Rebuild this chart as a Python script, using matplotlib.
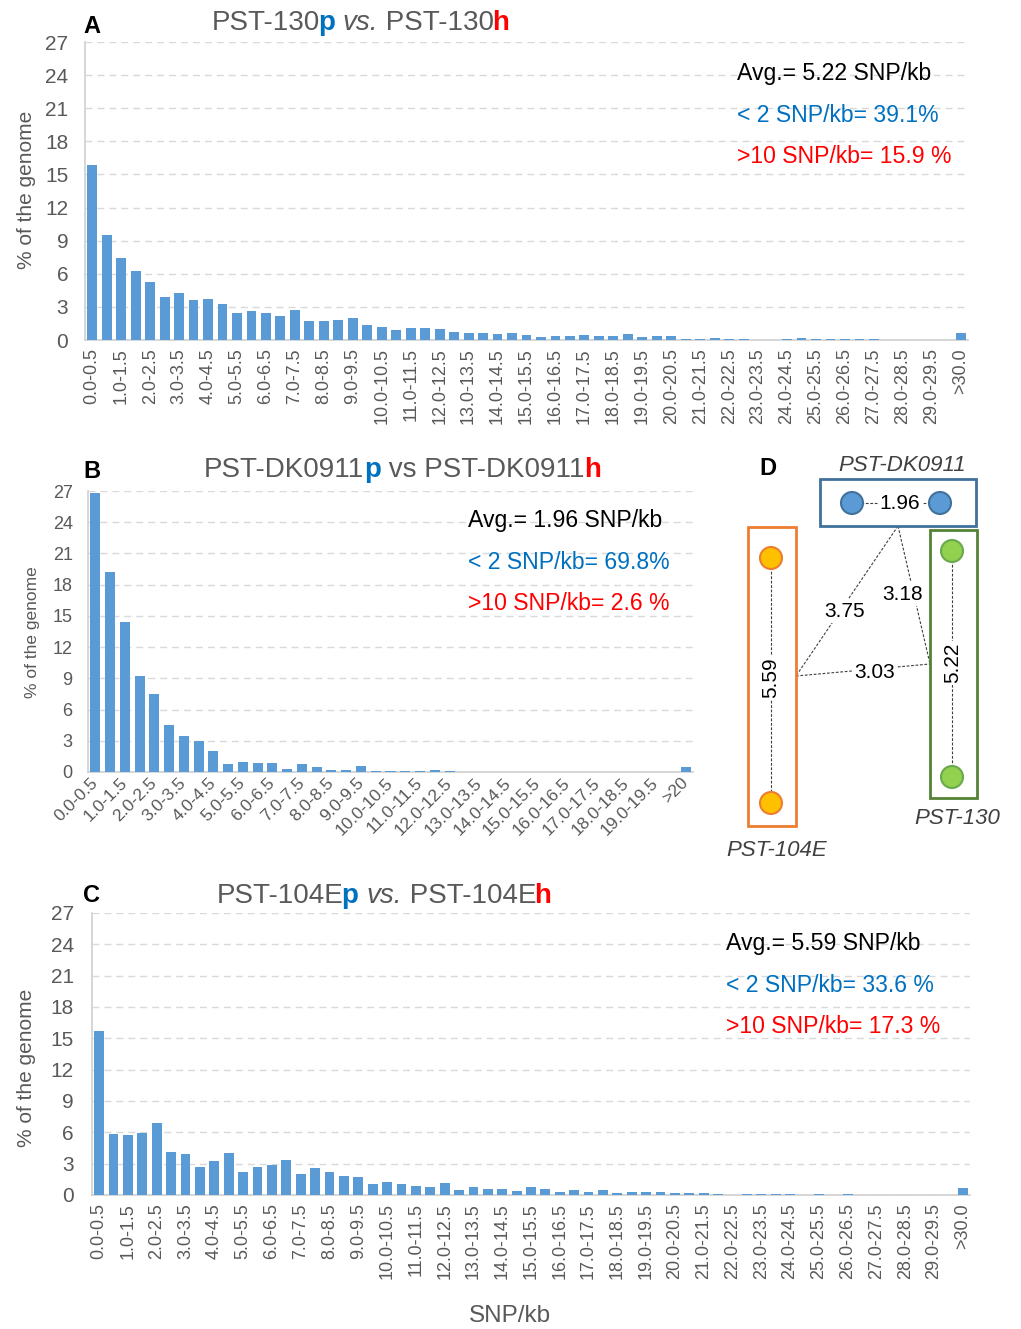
import numpy as np
import matplotlib
matplotlib.use('Agg')
import matplotlib.pyplot as plt
from matplotlib import font_manager
from matplotlib.font_manager import FontProperties
from matplotlib.patches import Rectangle, Circle

plt.rcParams['font.family'] = ['Liberation Sans', 'DejaVu Sans']

W, H = 1021, 1329
GREY = '#595959'
BAR = '#5B9BD5'
BLUE = '#0070C0'
RED = '#FF0000'

# ---- data ----
bins_30 = ['%.1f-%.1f' % (i * 0.5, i * 0.5 + 0.5) for i in range(60)] + ['>30.0']
bins_20 = ['%.1f-%.1f' % (i * 0.5, i * 0.5 + 0.5) for i in range(40)] + ['>20']

pct_130 = [15.9, 9.5, 7.4, 6.25, 5.3, 3.9, 4.3, 3.65, 3.7, 3.25,
           2.45, 2.6, 2.45, 2.2, 2.75, 1.7, 1.75, 1.8, 1.95, 1.4,
           1.15, 0.9, 1.05, 1.1, 1.0, 0.77, 0.67, 0.67, 0.52, 0.6,
           0.45, 0.3, 0.4, 0.4, 0.45, 0.4, 0.35, 0.55, 0.28, 0.35,
           0.35, 0.12, 0.12, 0.15, 0.12, 0.12, 0, 0, 0.1, 0.2,
           0.1, 0.1, 0.12, 0.12, 0.12, 0, 0, 0, 0, 0,
           0.65]

pct_dk = [26.8, 19.2, 14.4, 9.25, 7.5, 4.5, 3.45, 3.0, 2.05, 0.75,
          0.92, 0.82, 0.82, 0.33, 0.75, 0.49, 0.16, 0.2, 0.55, 0.1,
          0.07, 0.1, 0.1, 0.16, 0.05, 0, 0, 0, 0, 0,
          0, 0, 0, 0, 0, 0, 0, 0, 0, 0,
          0.5]

pct_104 = [15.7, 5.8, 5.75, 5.9, 6.93, 4.15, 3.93, 2.72, 3.26, 4.0,
           2.17, 2.72, 2.84, 3.39, 2.0, 2.6, 2.24, 1.85, 1.76, 1.05,
           1.2, 1.05, 0.9, 0.77, 1.15, 0.5, 0.8, 0.58, 0.57, 0.42,
           0.8, 0.55, 0.32, 0.45, 0.32, 0.45, 0.22, 0.29, 0.26, 0.26,
           0.2, 0.2, 0.2, 0.13, 0, 0.13, 0.1, 0.1, 0.1, 0,
           0.06, 0, 0.06, 0, 0, 0, 0, 0, 0, 0,
           0.65]

avg_txt = ['Avg.= 5.22 SNP/kb', 'Avg.= 1.96 SNP/kb', 'Avg.= 5.59 SNP/kb']
low_txt = ['< 2 SNP/kb= 39.1%', '< 2 SNP/kb= 69.8%', '< 2 SNP/kb= 33.6 %']
high_txt = ['>10 SNP/kb= 15.9 %', '>10 SNP/kb= 2.6 %', '>10 SNP/kb= 17.3 %']

# distances for panel D
within = {'PST-DK0911': 1.96, 'PST-104E': 5.59, 'PST-130': 5.22}
between = {('PST-DK0911', 'PST-104E'): 3.75,
           ('PST-DK0911', 'PST-130'): 3.18,
           ('PST-104E', 'PST-130'): 3.03}

fig = plt.figure(figsize=(W / 100, H / 100), dpi=100)


def px(x, y):
    return x / W, 1 - y / H


def adv_px(s, size, weight, style):
    # pen advance of a string in pixels (at 100 dpi)
    prop = FontProperties(family='Liberation Sans', weight=weight, style=style, size=size)
    font = font_manager.get_font(font_manager.findfont(prop))
    font.set_size(size, 100)
    return sum(font.load_char(ord(ch)).linearHoriAdvance / 65536 for ch in s)


def bar_panel(left, top, right, bottom, labels, values, ysize, xsize, rot, ypad):
    ax = fig.add_axes([left / W, 1 - bottom / H, (right - left) / W, (bottom - top) / H])
    x = np.arange(len(values))
    ax.bar(x, values, width=0.68, color=BAR, zorder=3)
    ax.set_xlim(-0.5, len(values) - 0.5)
    ax.set_ylim(0, 27)
    ax.set_yticks(range(0, 28, 3))
    ax.yaxis.grid(True, ls=(0, (5, 3.6)), color='#D9D9D9', lw=1)
    ax.set_axisbelow(True)
    ticks = list(range(0, len(values), 2))
    ax.set_xticks(ticks)
    ax.set_xticklabels([labels[i] for i in ticks])
    for s in ['top', 'right']:
        ax.spines[s].set_visible(False)
    for s in ['left', 'bottom']:
        ax.spines[s].set_color('#D0D0D0')
        ax.spines[s].set_linewidth(1.2)
    ax.tick_params(axis='y', length=0, pad=ypad, labelsize=ysize, labelcolor=GREY)
    ax.tick_params(axis='x', length=0, pad=6, labelsize=xsize, labelcolor=GREY)
    if rot == 90:
        for t in ax.get_xticklabels():
            t.set_rotation(90)
            t.set_ha('center')
            t.set_va('top')
    else:
        for t in ax.get_xticklabels():
            t.set_rotation(rot)
            t.set_ha('right')
            t.set_va('center')
            t.set_rotation_mode('anchor')
    return ax


def rich_text(x, y, parts, size):
    cur = x
    for s, c, wt, st in parts:
        if wt == 'bold':
            cur -= 3.5  # pull the bold letter against the word before it
        fig.text(*px(cur, y), s, color=c, fontweight=wt, fontstyle=st,
                 fontsize=size, va='baseline', ha='left')
        cur += adv_px(s, size, wt, st)


def stats(x, y0, i, size=16.6):
    fig.text(*px(x, y0), avg_txt[i], color='black', fontsize=size, va='baseline')
    fig.text(*px(x, y0 + 42), low_txt[i], color=BLUE, fontsize=size, va='baseline')
    fig.text(*px(x, y0 + 83), high_txt[i], color=RED, fontsize=size, va='baseline')


# ---- panel A ----
axA = bar_panel(85, 42, 968, 340, bins_30, pct_130, 15, 13, 90, 12)
rich_text(212, 30, [('PST-130', GREY, 'normal', 'normal'),
                    ('p', BLUE, 'bold', 'normal'),
                    (' ', GREY, 'normal', 'normal'),
                    ('vs.', GREY, 'normal', 'italic'),
                    (' PST-130', GREY, 'normal', 'normal'),
                    ('h', RED, 'bold', 'normal')], 20)
fig.text(*px(83, 33), 'A', fontsize=17, fontweight='bold', va='baseline')
fig.text(*px(26, 190), '% of the genome', rotation=90, fontsize=15,
         color=GREY, ha='center', va='center')
stats(737, 80, 0)

# ---- panel B ----
axB = bar_panel(88, 491, 693, 772, bins_20, pct_dk, 13, 12.5, 45, 11)
rich_text(204, 477, [('PST-DK0911', GREY, 'normal', 'normal'),
                     ('p', BLUE, 'bold', 'normal'),
                     (' vs PST-DK0911', GREY, 'normal', 'normal'),
                     ('h', RED, 'bold', 'normal')], 20)
fig.text(*px(83, 478), 'B', fontsize=17, fontweight='bold', va='baseline')
fig.text(*px(33, 632), '% of the genome', rotation=90, fontsize=12.5,
         color=GREY, ha='center', va='center')
stats(468, 527, 1)

# ---- panel C ----
axC = bar_panel(92, 913, 970, 1195, bins_30, pct_104, 15, 13, 90, 13)
rich_text(217, 903, [('PST-104E', GREY, 'normal', 'normal'),
                     ('p', BLUE, 'bold', 'normal'),
                     (' ', GREY, 'normal', 'normal'),
                     ('vs.', GREY, 'normal', 'italic'),
                     (' PST-104E', GREY, 'normal', 'normal'),
                     ('h', RED, 'bold', 'normal')], 20)
fig.text(*px(83, 902), 'C', fontsize=17, fontweight='bold', va='baseline')
fig.text(*px(26, 1068), '% of the genome', rotation=90, fontsize=15,
         color=GREY, ha='center', va='center')
stats(726, 950, 2)
fig.text(*px(510, 1316), 'SNP/kb', fontsize=17.5, color=GREY, ha='center', va='center')

# ---- panel D (schematic, pixel coordinates) ----
axD = fig.add_axes([710 / W, 1 - 870 / H, 311 / W, 430 / H])
axD.set_xlim(710, 1021)
axD.set_ylim(870, 440)
axD.axis('off')

iso = {
    'PST-DK0911': dict(box=(820, 479, 976, 526), edge='#41719C', fill='#5B9BD5',
                       cedge='#41719C', pts=[(852, 503), (940, 503)],
                       lab=(902, 465), num=(900, 503), vert=False),
    'PST-104E': dict(box=(748, 527, 796, 826), edge='#ED7D31', fill='#FFC000',
                     cedge='#ED7D31', pts=[(771, 558), (771, 803)],
                     lab=(777, 850), num=(771, 678), vert=True),
    'PST-130': dict(box=(930, 530, 977, 798), edge='#548235', fill='#92D050',
                    cedge='#6AA84F', pts=[(952, 551), (952, 777)],
                    lab=(957, 818), num=(953, 663), vert=True),
}
anchor = {'PST-DK0911': (898, 526), 'PST-104E': (796, 676), 'PST-130': (930, 664)}
pair_lab = {('PST-DK0911', 'PST-104E'): (845, 611),
            ('PST-DK0911', 'PST-130'): (903, 594),
            ('PST-104E', 'PST-130'): (875, 672)}
dash = dict(color='#404040', lw=0.8, ls=(0, (2.5, 1.5)), zorder=1)
wbox = dict(fc='white', ec='none', pad=1.5)

for name, d in iso.items():
    x0, y0, x1, y1 = d['box']
    axD.add_patch(Rectangle((x0, y0), x1 - x0, y1 - y0, fill=False,
                            ec=d['edge'], lw=2, zorder=2))
    (ax1, ay1), (ax2, ay2) = d['pts']
    axD.plot([ax1, ax2], [ay1, ay2], **dash)
    for cx, cy in d['pts']:
        axD.add_patch(Circle((cx, cy), 11, fc=d['fill'], ec=d['cedge'], lw=1.5, zorder=4))
    axD.text(*d['num'], '%.2f' % within[name], fontsize=15, ha='center', va='center',
             rotation=90 if d['vert'] else 0, bbox=wbox, zorder=3)
    axD.text(*d['lab'], name, fontsize=16, fontstyle='italic', color='#404040',
             ha='center', va='center')

for (a, b), v in between.items():
    (xa, ya), (xb, yb) = anchor[a], anchor[b]
    axD.plot([xa, xb], [ya, yb], **dash)
    axD.text(*pair_lab[(a, b)], '%.2f' % v, fontsize=15, ha='center', va='center',
             bbox=wbox, zorder=3)
fig.text(*px(759, 475), 'D', fontsize=17, fontweight='bold', va='baseline')

fig.savefig('out.png', dpi=100)
